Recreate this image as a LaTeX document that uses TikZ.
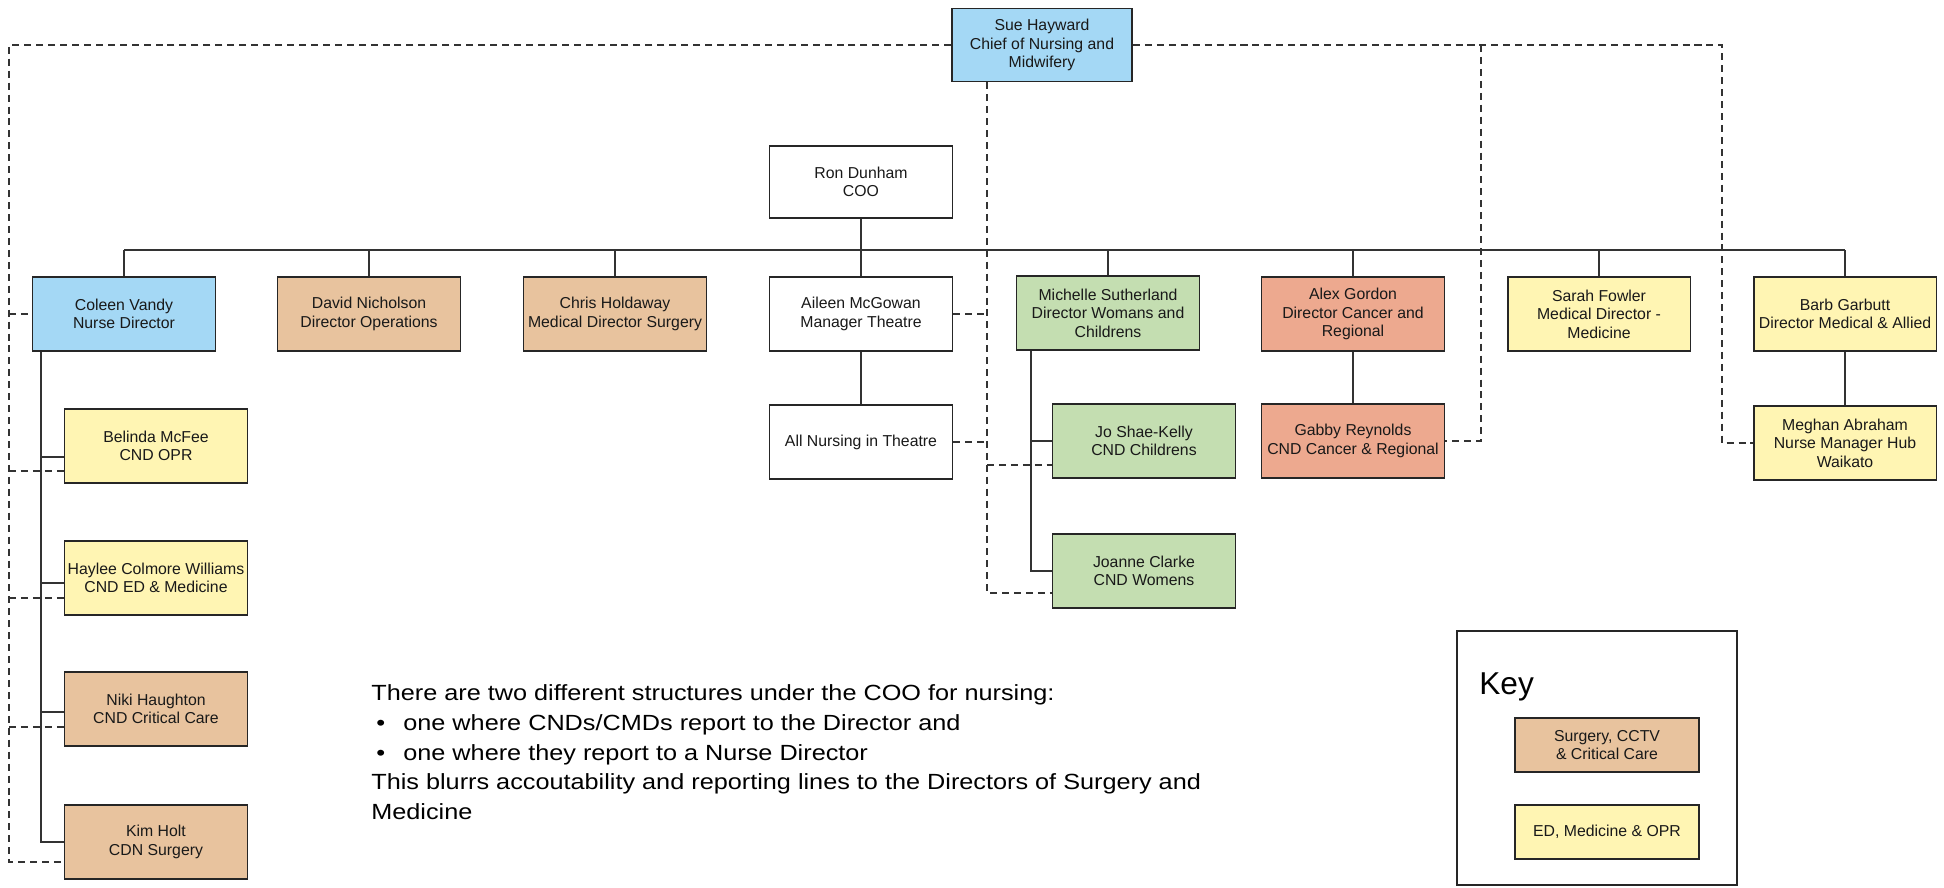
\documentclass[tikz,border=0pt]{standalone}
\usepackage{fontspec}
\setmainfont{Liberation Sans}
\newfontfamily\notefont[FakeStretch=1.15]{Liberation Sans}
\usetikzlibrary{calc}
\definecolor{nblue}{HTML}{A4D8F5}
\definecolor{ntan}{HTML}{E8C39E}
\definecolor{nyellow}{HTML}{FFF5B3}
\definecolor{ngreen}{HTML}{C4DEB1}
\definecolor{nsalmon}{HTML}{EDA98F}
\begin{document}
\begin{tikzpicture}[x=0.02cm,y=-0.02cm,
  box/.style={draw=black!85,line width=1.1pt,fill=white,minimum width=3.66cm,minimum height=1.48cm,
    inner sep=1pt,align=center,font=\fontsize{9}{10.6}\selectfont,text=black!90},
  link/.style={draw=black!80,line width=0.8pt},
  dline/.style={draw=black!80,line width=0.8pt,dash pattern=on 4pt off 2.8pt}]
  \useasboundingbox (0,0) rectangle (1944,888);

  % top
  \node[box,fill=nblue,minimum width=3.6cm,minimum height=1.46cm] (sue) at (1042,45) {Sue Hayward\\Chief of Nursing and\\Midwifery};
  \node[box,minimum height=1.44cm] (ron) at (861,182) {Ron Dunham\\COO};

  % directors
  \node[box,fill=nblue] (coleen) at (124,314) {Coleen Vandy\\Nurse Director};
  \node[box,fill=ntan] (david) at (369,314) {David Nicholson\\Director Operations};
  \node[box,fill=ntan] (chris) at (615,314) {Chris Holdaway\\Medical Director Surgery};
  \node[box] (aileen) at (861,314) {Aileen McGowan\\Manager Theatre};
  \node[box,fill=ngreen] (michelle) at (1108,313) {Michelle Sutherland\\Director Womans and\\Childrens};
  \node[box,fill=nsalmon] (alex) at (1353,314) {Alex Gordon\\Director Cancer and\\Regional};
  \node[box,fill=nyellow] (sarah) at (1599,314) {Sarah Fowler\\Medical Director -\\Medicine};
  \node[box,fill=nyellow] (barb) at (1845,314) {Barb Garbutt\\Director Medical \& Allied};

  % nurse director team
  \node[box,fill=nyellow] (belinda) at (156,446) {Belinda McFee\\CND OPR};
  \node[box,fill=nyellow] (haylee) at (156,578) {Haylee Colmore Williams\\CND ED \& Medicine};
  \node[box,fill=ntan] (niki) at (156,709) {Niki Haughton\\CND Critical Care};
  \node[box,fill=ntan] (kim) at (156,842) {Kim Holt\\CDN Surgery};

  % other teams
  \node[box] (theatre) at (861,442) {All Nursing in Theatre};
  \node[box,fill=ngreen] (jo) at (1144,441) {Jo Shae-Kelly\\CND Childrens};
  \node[box,fill=ngreen] (joanne) at (1144,571) {Joanne Clarke\\CND Womens};
  \node[box,fill=nsalmon] (gabby) at (1353,441) {Gabby Reynolds\\CND Cancer \& Regional};
  \node[box,fill=nyellow] (meghan) at (1845,443) {Meghan Abraham\\Nurse Manager Hub\\Waikato};

  % solid lines from the COO
  \coordinate (bus) at (0,250);
  \draw[link] (ron.south) -- (aileen.north);
  \draw[link] (coleen.north |- bus) -- (barb.north |- bus);
  \foreach \n in {coleen,david,chris,michelle,alex,sarah,barb}
    \draw[link] (\n.north) -- (\n.north |- bus);
  \draw[link] (aileen) -- (theatre);
  \draw[link] (alex) -- (gabby);
  \draw[link] (barb) -- (meghan);

  % nurse director spine
  \coordinate (cs) at (41,0);
  \draw[link] (coleen.south -| cs) |- (kim.west);
  \foreach \n/\s in {belinda/11,haylee/5,niki/3} {
    \coordinate (\n-s) at ($(\n.west)+(0,\s)$);
    \draw[link] (\n-s -| cs) -- (\n-s);
  }

  % womens and childrens spine
  \coordinate (ms) at (1031,0);
  \draw[link] (michelle.south -| ms) |- (joanne.west);
  \draw[link] (jo.west -| ms) -- (jo.west);

  % dashed lines from the chief of nursing: left
  \coordinate (dl) at (9,0);
  \foreach \n/\d in {belinda/25,haylee/20,niki/18,kim/20}
    \coordinate (\n-d) at ($(\n.west)+(0,\d)$);
  \draw[dline] (sue.west) -| (dl |- kim-d) -- (kim-d);
  \draw[dline] (dl |- coleen.west) -- (coleen.west);
  \foreach \n in {belinda,haylee,niki}
    \draw[dline] (dl |- \n-d) -- (\n-d);

  % dashed lines: middle
  \coordinate (ds) at (987,0);
  \coordinate (jo-d) at ($(jo.west)+(0,24)$);
  \coordinate (joanne-d) at ($(joanne.west)+(0,22)$);
  \draw[dline] (ds |- sue.south) |- (joanne-d);
  \draw[dline] (aileen.east) -- (aileen.east -| ds);
  \draw[dline] (theatre.east) -- (theatre.east -| ds);
  \draw[dline] (jo-d -| ds) -- (jo-d);

  % dashed lines: right
  \coordinate (dg) at (1481,0);
  \coordinate (dm) at (1722,0);
  \draw[dline] (sue.east) -| (dm |- meghan.west) -- (meghan.west);
  \draw[dline] (sue.east -| dg) |- (gabby.east);

  % note
  \node[anchor=north west,align=left,inner sep=0pt,font=\notefont\fontsize{12.5}{17}\selectfont] (note) at (371,684)
    {There are two different structures under the COO for nursing:\\
     \hspace*{0.1cm}\makebox[0.54cm][l]{\textbullet}one where CNDs/CMDs report to the Director and\\
     \hspace*{0.1cm}\makebox[0.54cm][l]{\textbullet}one where they report to a Nurse Director\\
     This blurrs accoutability and reporting lines to the Directors of Surgery and\\
     Medicine};

  % key
  \node[draw=black!85,line width=1.1pt,minimum width=5.6cm,minimum height=5.08cm] (keybox) at (1597,758) {};
  \node[anchor=base west,inner sep=0pt,font=\fontsize{18}{20}\selectfont] (keylabel) at (1479,694) {Key};
  \node[box,fill=ntan,minimum width=3.68cm,minimum height=1.08cm] (keysurg) at (1607,745) {Surgery, CCTV\\\& Critical Care};
  \node[box,fill=nyellow,minimum width=3.68cm,minimum height=1.08cm] (keymed) at (1607,832) {ED, Medicine \& OPR};
\end{tikzpicture}
\end{document}
